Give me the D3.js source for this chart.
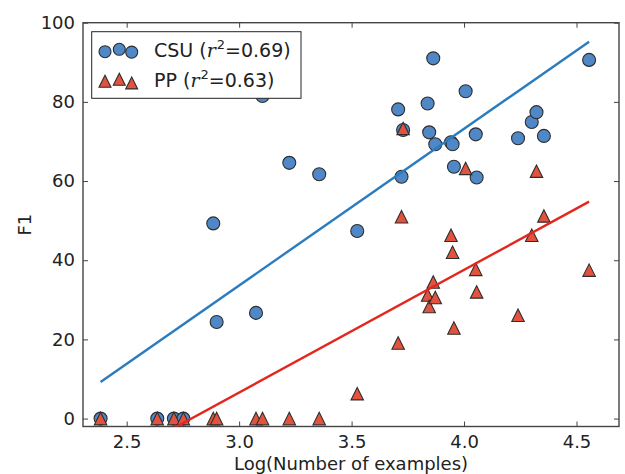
<!DOCTYPE html>
<html>
<head>
<meta charset="utf-8">
<script src="https://cdn.jsdelivr.net/npm/d3@7"></script>
<style>
  html, body { margin: 0; padding: 0; background: #fff; }
  svg { display: block; }
  text { font-family: "DejaVu Sans", sans-serif; fill: #222; }
</style>
</head>
<body>
<svg id="chart" width="625" height="474"></svg>
<script>
// ---- data ----
const logN = [2.384, 2.636, 2.710, 2.752, 2.885, 2.900, 3.075, 3.104, 3.223, 3.356,
              3.525, 3.707, 3.722, 3.729, 3.838, 3.845, 3.863, 3.872, 3.942, 3.949,
              3.955, 4.007, 4.052, 4.056, 4.240, 4.301, 4.322, 4.355, 4.556];
const csuF1 = [0, 0, 0, 0, 49.3, 24.4, 26.7, 81.5, 64.6, 61.7,
               47.4, 78.1, 61.1, 72.9, 79.6, 72.3, 91.0, 69.3, 69.8, 69.3,
               63.6, 82.7, 71.8, 60.9, 70.8, 74.9, 77.4, 71.4, 90.6];
const ppF1 = [0, 0, 0, 0, 0, 0, 0, 0, 0, 0,
              6.3, 19.1, 51.0, 73.3, 31.2, 28.3, 34.5, 30.6, 46.3, 42.0,
              22.9, 63.2, 37.7, 32.0, 26.1, 46.3, 62.5, 51.2, 37.5];
// fitted regression lines (endpoints)
const csuFitX = [2.384, 4.556];
const csuFitY = [9.25, 95.2];
const ppFitX = [2.384, 4.556];
const ppFitY = [-12.5, 54.8];
const xTicks = [2.5, 3.0, 3.5, 4.0, 4.5];
const yTicks = [0, 20, 40, 60, 80, 100];
const legendLabels = ["CSU", "PP"];
const legendR2 = ["0.69", "0.63"];

// ---- layout ----
const svg = d3.select("#chart");
const L = 83, R = 619, T = 22.7, B = 426.5;
const x = d3.scaleLinear().domain([2.3058, 4.6889]).range([L, R]);
const y = d3.scaleLinear().domain([-2, 100]).range([B, T]);

const blueFill = "#4f87c7", redFill = "#e2533f";
const blueLine = "#2a7cbf", redLine = "#e3271f";
const edge = "#2e2e2e";
const fs = 18;

svg.append("defs").append("clipPath").attr("id", "plotclip")
  .append("rect").attr("x", L).attr("y", T).attr("width", R - L).attr("height", B - T);

// axes with inward ticks on all sides
const tickLen = 5;
const gx = svg.append("g").attr("transform", `translate(0,${B})`)
  .call(d3.axisBottom(x).tickValues(xTicks).tickFormat(d3.format(".1f")).tickSizeInner(-tickLen).tickSizeOuter(0).tickPadding(9));
const gxt = svg.append("g").attr("transform", `translate(0,${T})`)
  .call(d3.axisTop(x).tickValues(xTicks).tickFormat("").tickSizeInner(-tickLen).tickSizeOuter(0));
const gy = svg.append("g").attr("transform", `translate(${L},0)`)
  .call(d3.axisLeft(y).tickValues(yTicks).tickFormat(d3.format("d")).tickSizeInner(-tickLen).tickSizeOuter(0).tickPadding(8));
const gyr = svg.append("g").attr("transform", `translate(${R},0)`)
  .call(d3.axisRight(y).tickValues(yTicks).tickFormat("").tickSizeInner(-tickLen).tickSizeOuter(0));
[gx, gxt, gy, gyr].forEach(g => {
  g.select(".domain").remove();
  g.selectAll(".tick line").attr("stroke", "#444").attr("stroke-width", 1);
  g.selectAll(".tick text").attr("font-size", fs).attr("font-family", "DejaVu Sans").attr("fill", "#222");
});

// frame
svg.append("rect").attr("x", L).attr("y", T).attr("width", R - L).attr("height", B - T)
  .attr("fill", "none").attr("stroke", "#444").attr("stroke-width", 1.4);

// axis labels
svg.append("text").attr("x", (L + R) / 2).attr("y", 470).attr("text-anchor", "middle")
  .attr("font-size", fs).text("Log(Number of examples)");
svg.append("text").attr("transform", `translate(31,${(T + B) / 2}) rotate(-90)`)
  .attr("text-anchor", "middle").attr("font-size", fs).text("F1");

const plot = svg.append("g").attr("clip-path", "url(#plotclip)");

const tri = (s) => `M0,${-s/2}L${s/2},${s/2}L${-s/2},${s/2}Z`;

// CSU circles
plot.append("g").selectAll("circle").data(logN.map((v, i) => [v, csuF1[i]])).join("circle")
  .attr("cx", d => x(d[0])).attr("cy", d => y(d[1])).attr("r", 6.5)
  .attr("fill", blueFill).attr("stroke", edge).attr("stroke-width", 1.1);
// PP triangles
plot.append("g").selectAll("path").data(logN.map((v, i) => [v, ppF1[i]])).join("path")
  .attr("transform", d => `translate(${x(d[0])},${y(d[1])})`).attr("d", tri(12.5))
  .attr("fill", redFill).attr("stroke", edge).attr("stroke-width", 1.1);

// regression lines
const line = d3.line().x(d => x(d[0])).y(d => y(d[1]));
plot.append("path").datum(csuFitX.map((v, i) => [v, csuFitY[i]])).attr("d", line)
  .attr("fill", "none").attr("stroke", blueLine).attr("stroke-width", 2.4);
plot.append("path").datum(ppFitX.map((v, i) => [v, ppFitY[i]])).attr("d", line)
  .attr("fill", "none").attr("stroke", redLine).attr("stroke-width", 2.4);

// legend
const lg = svg.append("g");
lg.append("rect").attr("x", 91.7).attr("y", 31.7).attr("width", 209.3).attr("height", 66.6)
  .attr("fill", "#fff").attr("stroke", "#222").attr("stroke-width", 1);
const mxs = [105, 119.3, 131.7];
const circOff = [1.2, -1.2, 1.6];
const triOff = [0.8, -1.2, 2.4];
mxs.forEach((mx, j) => {
  lg.append("circle").attr("cx", mx).attr("cy", 50.5 + circOff[j]).attr("r", 6)
    .attr("fill", blueFill).attr("stroke", edge).attr("stroke-width", 1.1);
  lg.append("path").attr("transform", `translate(${mx},${80.5 + triOff[j]})`).attr("d", tri(12))
    .attr("fill", redFill).attr("stroke", edge).attr("stroke-width", 1.1);
});
legendLabels.forEach((lab, i) => {
  const t = lg.append("text").attr("x", 154).attr("y", 57 + i * 30).attr("font-size", 19);
  t.append("tspan").text(lab + " (");
  t.append("tspan").attr("font-family", "DejaVu Serif").attr("font-style", "italic").text("r");
  t.append("tspan").attr("font-size", 13).attr("dy", -8).attr("dx", 1).text("2");
  t.append("tspan").attr("dy", 8).text("=" + legendR2[i] + ")");
});
</script>
</body>
</html>
